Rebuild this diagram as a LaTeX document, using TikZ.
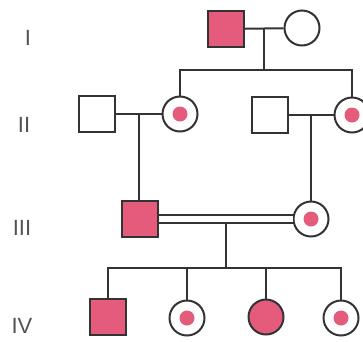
\documentclass[tikz,border=0pt]{standalone}
\usepackage{fontspec}
\setmainfont{Liberation Sans}
\definecolor{affected}{HTML}{E55B7C}
\definecolor{ink}{HTML}{333333}
\tikzset{
  male/.style={draw=ink, line width=2pt, rectangle, minimum size=36pt, inner sep=0pt, fill=white},
  female/.style={draw=ink, line width=2pt, circle, minimum size=35pt, inner sep=0pt, fill=white},
  ill/.style={fill=affected},
  carrier/.style={female, path picture={\fill[affected] (path picture bounding box.center) circle (7.5pt);}},
  gen/.style={text=ink!85, font=\fontsize{22}{22}\selectfont},
}
\begin{document}
\begin{tikzpicture}[x=1pt, y=-1pt, ink, line width=2pt]
    \useasboundingbox (0,0) rectangle (363,341);
    % generation numbers
    \node[gen] (gI)   at (28,38)  {I};
    \node[gen] (gII)  at (24,125) {II};
    \node[gen] (gIII) at (22,228) {III};
    \node[gen] (gIV)  at (22,326) {IV};
    % generation I
    \node[male, ill] (Ia) at (226,29) {};
    \node[female]    (Ib) at (302,28) {};
    % generation II
    \node[male]    (IIa) at (97,114) {};
    \node[carrier] (IIb) at (180,114) {};
    \node[male]    (IIc) at (270,115) {};
    \node[carrier] (IId) at (352,115) {};
    % generation III
    \node[male, ill] (IIIa) at (140,219) {};
    \node[carrier]   (IIIb) at (311,219) {};
    % generation IV
    \node[male, ill]   (IVa) at (108,317) {};
    \node[carrier]     (IVb) at (187,318) {};
    \node[female, ill] (IVc) at (266,317) {};
    \node[carrier]     (IVd) at (341,318) {};
    % I -> II
    \draw (Ia) -- coordinate (u1) (Ib);
    \draw (u1) -- ++(0,41) coordinate (s1);
    \draw (IIb.north) |- (s1) -| (IId.north);
    % II -> III
    \draw (IIa) -- coordinate (u2) (IIb);
    \draw (u2) -- (u2 |- IIIa.north);
    \draw (IIc) -- coordinate (u3) (IId);
    \draw (u3) -- (u3 |- IIIb.north);
    % III -> IV, consanguineous
    \path (IIIa) -- coordinate (u4) (IIIb);
    \draw (u4) -- ++(0,49) coordinate (s4);
    \draw[double=white, double distance=6pt] (IIIa) -- (IIIb);
    \draw (IVa.north) |- (s4) -| (IVd.north);
    \draw (IVb.north) -- (IVb.north |- s4);
    \draw (IVc.north) -- (IVc.north |- s4);
\end{tikzpicture}
\end{document}
